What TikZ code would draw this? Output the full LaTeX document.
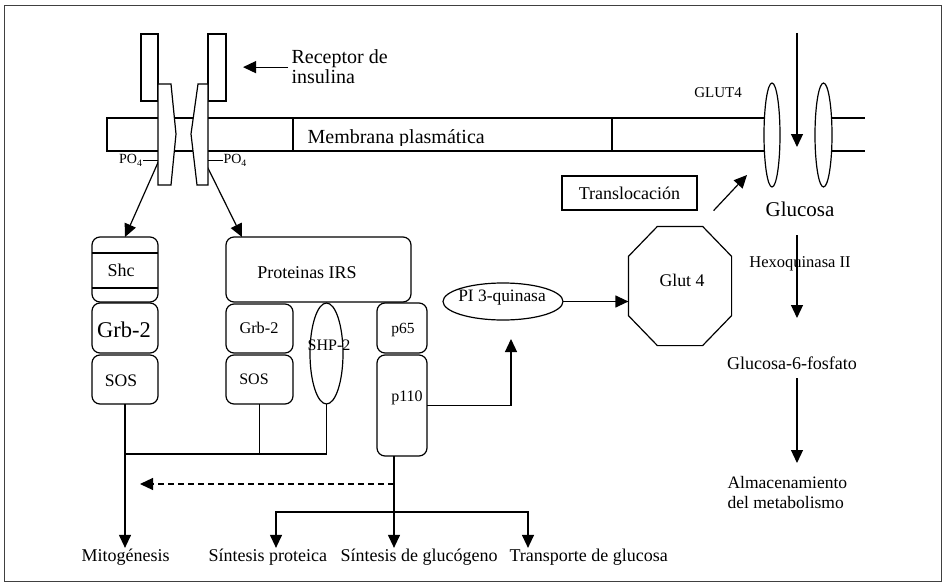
\documentclass[tikz,border=0pt]{standalone}
\usepackage{fontspec}
\setmainfont{Liberation Serif}
\usetikzlibrary{arrows.meta,shapes.geometric,calc}
\newcommand{\fsz}[1]{\fontsize{#1}{#1}\selectfont}
\begin{document}
\begin{tikzpicture}[x=1pt,y=-1pt,line width=1.2pt,
  tip/.style={-{Triangle[length=13pt,width=12pt]}},
  pbox/.style={draw,rounded corners=8pt,inner sep=0pt,outer sep=0pt},
  oval/.style={draw,ellipse,inner sep=0pt,outer sep=0pt},
  txt/.style={inner sep=0pt,anchor=base},
  dashline/.style={dash pattern=on 6pt off 4pt}]
\useasboundingbox (0,0) rectangle (946,586);
\draw[line width=0.9pt,black!75] (4,5) rectangle (941,581);

% plasma membrane
\draw (772,118) -- (107,118) -- (107,151) -- (772,151);
\draw (823,118) -- (865,118) (823,151) -- (865,151);
\draw (293,118) -- (293,151) (612,118) -- (612,151);
\begin{scope}
  \clip (294,119) rectangle (611,145);
  \node[txt,anchor=base west,font=\fsz{20}] (memb) at (307,143.5) {Membrana plasmática};
\end{scope}

% GLUT4 channels in the membrane
\node[oval,fill=white,minimum width=16,minimum height=104] (gl1) at (772,135) {};
\node[oval,fill=white,minimum width=17,minimum height=104] (gl2) at (823.5,135) {};
\node[txt,font=\fsz{15}] (glutlbl) at (718,98) {GLUT4};
\coordinate (gtop) at (797,33);
\coordinate (gbot) at (797,147);
\draw[tip] (gtop) -- (gbot);
\node[txt,font=\fsz{21}] (gluc) at (800,216) {Glucosa};

% Shc / Grb-2 / SOS column
\node[pbox,minimum width=66,minimum height=65] (shc) at (125,269.5) {};
\draw ($(shc.north west)+(0,16)$) -- ($(shc.north east)+(0,16)$);
\draw ($(shc.north west)+(0,51)$) -- ($(shc.north east)+(0,51)$);
\node[txt,font=\fsz{18}] (shcT) at (121,276.5) {Shc};
\node[pbox,minimum width=66,minimum height=50] (grbA) at (125,328) {};
\node[txt,font=\fsz{22.5}] (grbAT) at (124,337) {Grb-2};
\node[pbox,minimum width=66,minimum height=49] (sosA) at (125,379.5) {};
\node[txt,font=\fsz{17.6}] (sosAT) at (121,386) {SOS};

% IRS proteins and their partners
\node[pbox,minimum width=185,minimum height=65] (irs) at (318.5,269.5) {};
\node[txt,font=\fsz{18}] (irsT) at (307,278) {Proteinas IRS};
\node[pbox,minimum width=67,minimum height=49] (grbB) at (259.5,328.5) {};
\node[txt,font=\fsz{16.3}] (grbBT) at (259,333.5) {Grb-2};
\node[pbox,minimum width=67,minimum height=49] (sosB) at (259.5,379.5) {};
\node[txt,font=\fsz{16}] (sosBT) at (254,384) {SOS};
\node[oval,minimum width=33,minimum height=101] (shp) at (326.5,353.5) {};
\node[txt,font=\fsz{16}] (shpT) at (329,350.5) {SHP-2};
\node[pbox,minimum width=50,minimum height=50] (p65) at (402,328) {};
\node[txt,font=\fsz{15.5}] (p65T) at (403,333) {p65};
\node[pbox,minimum width=50,minimum height=101] (p110) at (402,405.5) {};
\node[txt,font=\fsz{16}] (p110T) at (407,401) {p110};

% PI 3-kinase and Glut 4
\node[oval,minimum width=120,minimum height=37] (pi3k) at (503,301.5) {};
\node[txt,font=\fsz{17.4}] (pi3kT) at (502,301) {PI 3-quinasa};
\node[inner sep=0pt,minimum width=102,minimum height=118] (oct) at (680,286) {};
\draw ($(oct.north west)+(0,30)$) -- ($(oct.north west)+(29,0)$)
  -- ($(oct.north east)+(-29,0)$) -- ($(oct.north east)+(0,30)$)
  -- ($(oct.south east)+(0,-30)$) -- ($(oct.south east)+(-29,0)$)
  -- ($(oct.south west)+(29,0)$) -- ($(oct.south west)+(0,-30)$) -- cycle;
\node[txt,font=\fsz{17.8}] (glutT) at (682,286) {Glut 4};
\node[draw,inner sep=0pt,minimum width=135,minimum height=34,font=\fsz{18}] (trans) at (629.5,193) {Translocación};

% receptor label
\node[inner sep=0pt,anchor=north west,align=left,font=\fontsize{20}{20}\selectfont] (rec) at (291,49.5) {Receptor de\\insulina};
\draw[tip] ($(rec.west)+(-3,0)$) -- +(-45,0);

% receptor to adaptor proteins
\coordinate (recL) at (160,158);
\coordinate (recR) at (203,158);
\draw[tip] (recL) -- (shc.north);
\draw[tip] (recR) -- ($(irs.north west)+(16,0)$);

% insulin receptor (two chains across the membrane)
\draw[fill=white] (141,34) rectangle (158,101);
\draw[fill=white] (208,34) rectangle (226,101);
\draw[fill=white] (158,84) -- (171,84) -- (176,134) -- (171,185) -- (158,185) -- cycle;
\draw[fill=white] (198,84) -- (208,84) -- (208,185) -- (197,185) -- (191,134) -- cycle;
\node[txt,anchor=base east,font=\fsz{14}] (poL) at (143,164) {PO\textsubscript{4}};
\draw (poL.east) -- +(15,0);
\node[txt,anchor=base west,font=\fsz{14}] (poR) at (223,164) {PO\textsubscript{4}};
\draw (poR.west) -- +(-15,0);

% outcomes
\node[txt,anchor=base west,font=\fsz{18}] (mito) at (81,561) {Mitogénesis};
\node[txt,anchor=base west,font=\fsz{18}] (sprot) at (208,561) {Síntesis proteica};
\node[txt,anchor=base west,font=\fsz{18}] (sglu) at (340,561) {Síntesis de glucógeno};
\node[txt,anchor=base west,font=\fsz{18}] (strans) at (509,561) {Transporte de glucosa};

\coordinate (joinY) at (0,454);
\coordinate (dashY) at (0,484);
\coordinate (brL) at (276,512);
\coordinate (brR) at (528,512);
\coordinate (pdown) at ($(p110.south)+(-8,0)$);

\draw[tip] (sosA.south) -- (sosA.south |- mito.north);
\draw (shp.south) -- (shp.south |- joinY) -- (sosA.south |- joinY);
\draw (sosB.south) -- (sosB.south |- joinY);
\draw[tip,dashline] (pdown |- dashY) -- ($(sosA.south |- dashY)+(15,0)$);
\draw[tip] (pdown) -- (pdown |- sglu.north);
\draw[tip] (pdown |- brL) -| (brL |- sprot.north);
\draw[tip] (pdown |- brL) -| (brR |- strans.north);

% PI3K signalling to GLUT4 translocation
\draw[tip] (p110.east) -| ($(pi3k.south)+(8,19)$);
\draw[tip] (pi3k.east) -- (pi3k.east -| oct.west);
\draw[tip] ($(trans.south east)+(16,0)$) -- ($(gl1.center)+(-25,40)$);

% glucose metabolism
\coordinate (hxA) at (797,235);
\coordinate (hxB) at (797,318);
\coordinate (stA) at (797,378);
\coordinate (stB) at (797,463);
\draw[tip] (hxA) -- (hxB);
\node[txt,font=\fsz{16.5}] (hexo) at (800,267) {Hexoquinasa II};
\node[txt,font=\fsz{18}] (g6p) at (792,369) {Glucosa-6-fosfato};
\draw[tip] (stA) -- (stB);
\node[anchor=north west,inner sep=0pt,align=left,font=\fontsize{17.5}{20}\selectfont] (alm) at (727,476) {Almacenamiento\\del metabolismo};
\end{tikzpicture}
\end{document}
